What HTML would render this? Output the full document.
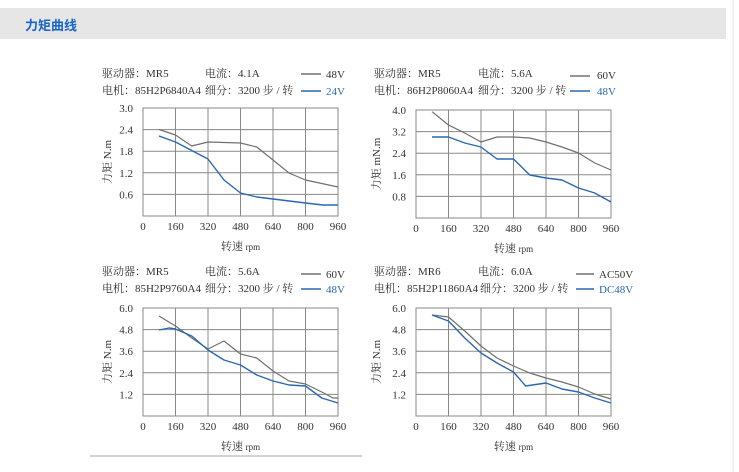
<!DOCTYPE html>
<html><head><meta charset="utf-8"><style>
html,body{margin:0;padding:0;background:#fff;width:739px;height:472px;overflow:hidden}
.bar{position:absolute;left:0;top:8px;width:726px;height:31px;background:#e6e6e6}
.title{position:absolute;left:25px;top:15px;font:bold 13px "Liberation Sans","Noto Sans CJK SC",sans-serif;color:#1a64c8}
svg{position:absolute;left:0;top:0}
text{font-family:"Liberation Serif","Noto Serif CJK SC",serif;fill:#333;font-size:11px}
.g{stroke:#888;stroke-width:1;fill:none}
.a{stroke:#707070;stroke-width:1.2;fill:none;stroke-linejoin:round}
.b{stroke:#2a68b0;stroke-width:1.4;fill:none;stroke-linejoin:round}
</style></head><body>
<div class="bar"></div><div class="title">力矩曲线</div>
<svg width="739" height="472" viewBox="0 0 739 472">
<line x1="733" y1="0" x2="733" y2="472" stroke="#e4e4e4"/>
<line x1="90" y1="456" x2="362" y2="456" stroke="#aaa"/>
<defs>
<g id="grid">
<rect x="0" y="0" width="195" height="108" class="g"/>
<path class="g" d="M32.5 0V108M65 0V108M97.5 0V108M130 0V108M162.5 0V108M0 21.6H195M0 43.2H195M0 64.8H195M0 86.4H195"/>
<g text-anchor="middle"><text x="0" y="122">0</text><text x="32.5" y="122">160</text><text x="65" y="122">320</text><text x="97.5" y="122">480</text><text x="130" y="122">640</text><text x="162.5" y="122">800</text><text x="195" y="122">960</text>
<text x="97.5" y="142">转速 <tspan font-size="9">rpm</tspan></text></g>
</g>
</defs>

<!-- chart 1 -->
<g transform="translate(143,108)">
<use href="#grid"/>
<g text-anchor="end"><text x="-10" y="4">3.0</text><text x="-10" y="25.6">2.4</text><text x="-10" y="47.2">1.8</text><text x="-10" y="68.8">1.2</text><text x="-10" y="90.4">0.6</text></g>
<text transform="translate(-32,54) rotate(-90)" text-anchor="middle">力矩 N.m</text>
<polyline class="a" points="16,21.5 32.5,27 48.75,38 65,34 97.5,35 113.75,39 130,52 146,65 162.5,72 195,79"/>
<polyline class="b" points="16,28 32.5,34 65,51 81,72 97.5,85 113.75,89 130,91 162.5,95 180,97 195,97"/>
<text x="-41" y="-31">驱动器：MR5</text><text x="62" y="-31">电流：4.1A</text>
<text x="-41" y="-14">电机：85H2P6840A4</text><text x="62" y="-14">细分：3200 步 / 转</text>
<line x1="158" y1="-34" x2="178" y2="-34" stroke="#555" stroke-width="1.2"/><text x="183" y="-30" fill="#555">48V</text>
<line x1="158" y1="-17" x2="178" y2="-17" stroke="#2a68b0" stroke-width="1.4"/><text x="183" y="-13" style="fill:#2a68b0">24V</text>
</g>

<!-- chart 2 -->
<g transform="translate(416,110)">
<use href="#grid"/>
<g text-anchor="end"><text x="-10" y="4">4.0</text><text x="-10" y="25.6">3.2</text><text x="-10" y="47.2">2.4</text><text x="-10" y="68.8">1.6</text><text x="-10" y="90.4">0.8</text></g>
<text transform="translate(-36,54) rotate(-90)" text-anchor="middle">力矩 mN.m</text>
<polyline class="a" points="16,1.7 32.5,15 48.75,23 65,32 81,27 97.5,27 113.75,28 130,32 146,37 162.5,43 178.75,53 195,60"/>
<polyline class="b" points="16,27 32.5,27 48.75,33 65,37 81,49 97.5,49 113.75,65 130,68 146,70 162.5,78 178.75,83 195,92"/>
<text x="-42" y="-33">驱动器：MR5</text><text x="62" y="-33">电流：5.6A</text>
<text x="-42" y="-16">电机：86H2P8060A4</text><text x="62" y="-16">细分：3200 步 / 转</text>
<line x1="154" y1="-34" x2="174" y2="-34" stroke="#555" stroke-width="1.2"/><text x="181" y="-31" fill="#555">60V</text>
<line x1="154" y1="-19" x2="174" y2="-19" stroke="#2a68b0" stroke-width="1.4"/><text x="181" y="-15" style="fill:#2a68b0">48V</text>
</g>

<!-- chart 3 -->
<g transform="translate(143,308)">
<use href="#grid"/>
<g text-anchor="end"><text x="-10" y="4">6.0</text><text x="-10" y="25.6">4.8</text><text x="-10" y="47.2">3.6</text><text x="-10" y="68.8">2.4</text><text x="-10" y="90.4">1.2</text></g>
<text transform="translate(-32,54) rotate(-90)" text-anchor="middle">力矩 N.m</text>
<polyline class="a" points="16,8 32.5,18 48.75,30 65,41 81,33 97.5,46 113.75,50 130,63 146,73 162.5,76 178.75,84 190,90 195,90"/>
<polyline class="b" points="16,22 26,20 32.5,21 48.75,28 65,42 81,52 97.5,57 113.75,67 130,73 146,77 162.5,78 178.75,90 195,95"/>
<text x="-41" y="-33">驱动器：MR5</text><text x="62" y="-33">电流：5.6A</text>
<text x="-41" y="-16">电机：85H2P9760A4</text><text x="62" y="-16">细分：3200 步 / 转</text>
<line x1="158" y1="-34" x2="178" y2="-34" stroke="#555" stroke-width="1.2"/><text x="183" y="-30" fill="#555">60V</text>
<line x1="158" y1="-19" x2="178" y2="-19" stroke="#2a68b0" stroke-width="1.4"/><text x="183" y="-15" style="fill:#2a68b0">48V</text>
</g>

<!-- chart 4 -->
<g transform="translate(416,308)">
<use href="#grid"/>
<g text-anchor="end"><text x="-10" y="4">6.0</text><text x="-10" y="25.6">4.8</text><text x="-10" y="47.2">3.6</text><text x="-10" y="68.8">2.4</text><text x="-10" y="90.4">1.2</text></g>
<text transform="translate(-36,54) rotate(-90)" text-anchor="middle">力矩 N.m</text>
<polyline class="a" points="16,7 32.5,9 48.75,23 65,38 81,50 97.5,58 113.75,65 130,70 146,74 162.5,79 178.75,86 195,91"/>
<polyline class="b" points="16,7 32.5,13 48.75,30 65,45 81,55 97.5,64 109.7,78 130,75 146,81 162.5,84 178.75,90 195,95"/>
<text x="-42" y="-33">驱动器：MR6</text><text x="62" y="-33">电流：6.0A</text>
<text x="-42" y="-16">电机：85H2P11860A4</text><text x="64" y="-16">细分：3200 步 / 转</text>
<line x1="160" y1="-34" x2="178" y2="-34" stroke="#555" stroke-width="1.2"/><text x="183" y="-30" fill="#555">AC50V</text>
<line x1="160" y1="-19" x2="178" y2="-19" stroke="#2a68b0" stroke-width="1.4"/><text x="183" y="-15" style="fill:#2a68b0">DC48V</text>
</g>
</svg>
</body></html>
